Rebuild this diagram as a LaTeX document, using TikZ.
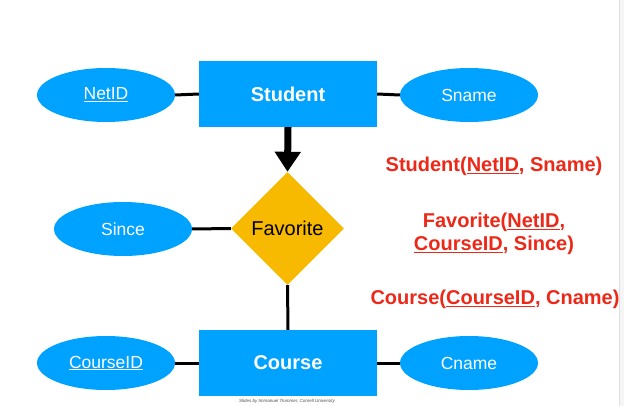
\documentclass[tikz,border=0pt]{standalone}
\usepackage{fontspec}
\setmainfont{Liberation Sans}
\usetikzlibrary{shapes.geometric,arrows.meta}
\definecolor{erblue}{RGB}{0,162,255}
\definecolor{eryellow}{RGB}{248,186,0}
\definecolor{erred}{RGB}{236,40,24}

\begin{document}
\begin{tikzpicture}[
        x=1pt,
        y=-1pt,
        entity/.style={
            rectangle,
            fill=erblue,
            text=white,
            minimum width=178pt,
            minimum height=66pt,
            font=\fontsize{20}{24}\selectfont\bfseries,
            inner sep=0pt
        },
        attr/.style={
            ellipse,
            fill=erblue,
            text=white,
            minimum width=138pt,
            minimum height=54pt,
            font=\fontsize{17.5}{21}\selectfont,
            inner sep=0pt
        },
        relation/.style={
            diamond,
            fill=eryellow,
            minimum width=113pt,
            minimum height=113pt,
            font=\fontsize{20}{24}\selectfont,
            inner sep=0pt
        },
        schema/.style={
            text=erred,
            align=center,
            font=\fontsize{20}{23}\selectfont\bfseries
        },
        link/.style={line width=3pt},
        isa/.style={line width=7pt, -{Triangle[width=25pt,length=20pt]}}
    ]

        \useasboundingbox (0,0) rectangle (624,406);
        \fill[black!4] (619,0) rectangle (624,406);
        \draw[black!12] (619.5,0) -- (619.5,406);

        % Entities and relationship
        \node[entity] (student) at (288,94) {Student};
        \node[relation] (fav) at (287.5,228.5) {Favorite};
        \node[entity] (course) at (288,363) {Course};

        % Attributes
        \node[attr] (netid) at (106,95) {\underline{NetID}};
        \node[attr] (sname) at (469,95) {Sname};
        \node[attr] (since) at (123,229) {Since};
        \node[attr] (courseid) at (106,363) {\underline{CourseID}};
        \node[attr] (cname) at (469,363) {Cname};

        % Connectors
        \draw[link] (netid.east) -- (student.west);
        \draw[link] (student.east) -- (sname.west);
        \draw[link] (since.east) -- (fav.west);
        \draw[link] (courseid.east) -- (course.west);
        \draw[link] (course.east) -- (cname.west);
        \draw[link] (fav.south) -- (course.north);
        \draw[isa] (student.south) -- (fav.north);

        % Relational schema
        \node[schema] (relstudent) at (494,166) {Student(\underline{NetID}, Sname)};
        \node[schema] (relfav) at (494,234) {Favorite(\underline{NetID},\\\underline{CourseID}, Since)};
        \node[schema] (relcourse) at (495,299.5) {Course(\underline{CourseID}, Cname)};

        \node[font=\fontsize{4.5}{5}\selectfont\itshape, text=black!70] (credit) at (287,401) {Slides by Immanuel Trummer, Cornell University};

    \end{tikzpicture}
\end{document}
